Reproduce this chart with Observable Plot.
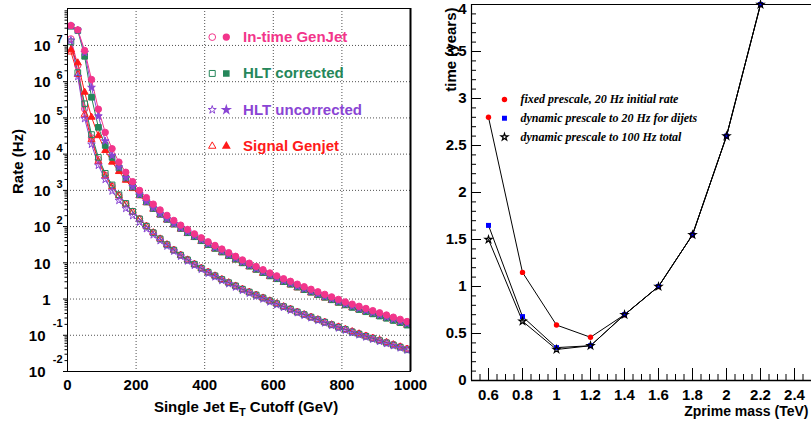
<!DOCTYPE html>
<html>
<head>
<meta charset="utf-8">
<script src="https://cdn.jsdelivr.net/npm/d3@7"></script>
<script src="https://cdn.jsdelivr.net/npm/@observablehq/plot@0.6"></script>
<style>
  body { margin: 0; background: #fff; }
  #wrap { display: flex; width: 811px; height: 423px; position: relative; }
</style>
</head>
<body>
<div id="wrap"></div>
<script>
// ================= LEFT PANEL DATA =================
// Single jet E_T cutoff (GeV) of every plotted point
const etCut = [10,30,50,70,90,110,130,150,170,190,210,230,250,270,290,310,330,350,370,390,
  410,430,450,470,490,510,530,550,570,590,610,630,650,670,690,710,730,750,770,790,
  810,830,850,870,890,910,930,950,970,990];

// log10 of the rate (Hz)
const inTimeGenJetFilledLog = [7.55,7.43,6.86,6.06,5.24,4.60,4.15,3.78,3.50,3.24,
  3.00,2.80,2.62,2.46,2.31,2.17,2.04,1.92,1.80,1.69,
  1.58,1.48,1.38,1.28,1.18,1.08,0.99,0.90,0.81,0.72,
  0.64,0.56,0.49,0.41,0.34,0.27,0.20,0.13,0.06,-0.01,
  -0.08,-0.14,-0.20,-0.26,-0.32,-0.38,-0.44,-0.50,-0.56,-0.62];
const hltCorrectedFilledLog = [7.53,7.41,6.70,5.57,4.74,4.24,3.91,3.62,3.34,3.09,
  2.88,2.68,2.50,2.34,2.20,2.07,1.95,1.83,1.72,1.61,
  1.50,1.40,1.30,1.20,1.10,1.00,0.91,0.82,0.73,0.64,
  0.56,0.48,0.41,0.33,0.26,0.19,0.12,0.05,-0.02,-0.09,
  -0.16,-0.23,-0.29,-0.35,-0.41,-0.47,-0.53,-0.59,-0.65,-0.72];
const hltUncorrectedFilledLog = [7.54,7.42,6.80,5.84,5.05,4.36,3.96,3.64,3.35,3.10,
  2.89,2.69,2.51,2.35,2.21,2.08,1.96,1.85,1.74,1.63,
  1.52,1.42,1.32,1.22,1.12,1.02,0.93,0.84,0.75,0.66,
  0.58,0.50,0.43,0.35,0.28,0.21,0.14,0.07,0.00,-0.07,
  -0.14,-0.20,-0.26,-0.32,-0.38,-0.44,-0.50,-0.56,-0.62,-0.68];
const signalGenjetFilledLog = [6.88,6.52,5.71,5.02,4.51,4.10,3.78,3.52,3.28,3.05,
  2.85,2.66,2.48,2.32,2.18,2.05,1.93,1.81,1.70,1.59,
  1.48,1.38,1.28,1.18,1.08,0.98,0.89,0.80,0.71,0.62,
  0.54,0.46,0.39,0.31,0.24,0.17,0.10,0.03,-0.04,-0.11,
  -0.18,-0.24,-0.30,-0.36,-0.42,-0.48,-0.54,-0.60,-0.66,-0.72];
const inTimeGenJetOpenLog = [7.18,6.45,5.25,4.45,3.85,3.42,3.12,2.86,2.63,2.42,
  2.22,2.02,1.84,1.67,1.51,1.36,1.22,1.09,0.97,0.86,
  0.75,0.65,0.55,0.46,0.37,0.28,0.20,0.12,0.04,-0.04,
  -0.12,-0.20,-0.27,-0.35,-0.42,-0.49,-0.56,-0.63,-0.70,-0.76,
  -0.83,-0.89,-0.95,-1.01,-1.07,-1.13,-1.19,-1.25,-1.31,-1.37];
const hltCorrectedOpenLog = [7.10,6.25,5.39,4.54,3.91,3.47,3.15,2.88,2.64,2.42,
  2.21,2.01,1.83,1.66,1.50,1.35,1.21,1.08,0.96,0.85,
  0.74,0.64,0.54,0.45,0.36,0.27,0.19,0.11,0.03,-0.05,
  -0.13,-0.21,-0.28,-0.36,-0.43,-0.50,-0.57,-0.64,-0.71,-0.78,
  -0.84,-0.91,-0.97,-1.03,-1.09,-1.15,-1.21,-1.27,-1.33,-1.40];
const hltUncorrectedOpenLog = [7.14,6.14,4.98,4.27,3.69,3.30,2.98,2.72,2.50,2.30,
  2.12,1.94,1.77,1.61,1.46,1.32,1.18,1.05,0.93,0.82,
  0.71,0.61,0.51,0.42,0.33,0.24,0.16,0.08,0.00,-0.08,
  -0.16,-0.23,-0.31,-0.38,-0.45,-0.52,-0.59,-0.66,-0.73,-0.80,
  -0.86,-0.93,-0.99,-1.05,-1.11,-1.17,-1.23,-1.29,-1.35,-1.41];
const signalGenjetOpenLog = [6.82,6.20,5.10,4.40,3.80,3.40,3.10,2.85,2.62,2.40,
  2.20,2.01,1.83,1.66,1.50,1.35,1.21,1.08,0.96,0.85,
  0.74,0.64,0.54,0.45,0.36,0.27,0.19,0.11,0.03,-0.05,
  -0.13,-0.21,-0.28,-0.36,-0.43,-0.50,-0.57,-0.64,-0.71,-0.77,
  -0.84,-0.90,-0.96,-1.02,-1.08,-1.14,-1.20,-1.26,-1.32,-1.38];

const leftLegendLabels = ["In-time GenJet", "HLT corrected", "HLT uncorrected", "Signal Genjet"];
const leftColors = ["#f2358b", "#25875a", "#8a45d4", "#ff1a1a"];
const leftSymbols = ["circle", "square", "star", "triangle"];

const rateTicks = [1e-2, 1e-1, 1, 10, 1e2, 1e3, 1e4, 1e5, 1e6, 1e7];
const rateTickBase = ["10", "10", "1", "10", "10", "10", "10", "10", "10", "10"];
const rateTickExp = ["-2", "-1", "", "", "2", "3", "4", "5", "6", "7"];
const etTicks = [0, 200, 400, 600, 800, 1000];
const etTickLabels = ["0", "200", "400", "600", "800", "1000"];
const leftXLabel = "Single Jet ET Cutoff (GeV)";
const leftYLabel = "Rate (Hz)";

// ================= RIGHT PANEL DATA =================
const zprimeMass = [0.6, 0.8, 1.0, 1.2, 1.4, 1.6, 1.8, 2.0, 2.2];
const fixedPrescale20Hz = [2.80, 1.15, 0.59, 0.46, 0.70, 1.00, 1.55, 2.60, 4.00];
const dynamicPrescale20Hz = [1.65, 0.68, 0.35, 0.37, 0.70, 1.00, 1.55, 2.60, 4.00];
const dynamicPrescale100Hz = [1.50, 0.63, 0.33, 0.37, 0.70, 1.00, 1.55, 2.60, 4.00];
const rightLegendLabels = ["fixed prescale, 20 Hz initial rate", "dynamic prescale to 20 Hz for dijets", "dynamic prescale to 100 Hz total"];
const timeTicks = [0, 0.5, 1, 1.5, 2, 2.5, 3, 3.5, 4];
const timeTickLabels = ["0", "0.5", "1", "1.5", "2", "2.5", "3", "3.5", "4"];
const massTicks = [0.6, 0.8, 1.0, 1.2, 1.4, 1.6, 1.8, 2.0, 2.2, 2.4];
const massTickLabels = ["0.6", "0.8", "1", "1.2", "1.4", "1.6", "1.8", "2", "2.2", "2.4"];
const rightXLabel = "Zprime mass (TeV)";
const rightYLabel = "time (years)";

// ================= BUILD LEFT =================
const leftSeries = [
  {log: inTimeGenJetOpenLog, c: 0, filled: false},
  {log: signalGenjetOpenLog, c: 3, filled: false},
  {log: hltCorrectedOpenLog, c: 1, filled: false},
  {log: hltUncorrectedOpenLog, c: 2, filled: false},
  {log: signalGenjetFilledLog, c: 3, filled: true},
  {log: hltCorrectedFilledLog, c: 1, filled: true},
  {log: hltUncorrectedFilledLog, c: 2, filled: true},
  {log: inTimeGenJetFilledLog, c: 0, filled: true}
];
const symR = {circle: 3.2, square: 3.2, star: 2.4, triangle: 2.6};

const leftMarks = [];
const gridStyle = {stroke: "#333", strokeOpacity: 0.85, strokeDasharray: "1,2", strokeWidth: 1};
leftMarks.push(Plot.gridY(rateTicks.slice(1), gridStyle));
leftMarks.push(Plot.gridX(etTicks.slice(1, -1), gridStyle));

for (const s of leftSeries) {
  const rows = etCut.map((x, i) => ({x, rate: 10 ** s.log[i]}));
  leftMarks.push(Plot.line(rows, {x: "x", y: "rate", stroke: leftColors[s.c], strokeWidth: 1}));
}
for (const s of leftSeries) {
  const rows = etCut.map((x, i) => ({x, rate: 10 ** s.log[i]}));
  const sym = leftSymbols[s.c];
  leftMarks.push(Plot.dot(rows, {x: "x", y: "rate", symbol: sym, r: symR[sym],
    fill: s.filled ? leftColors[s.c] : "none", stroke: leftColors[s.c], strokeWidth: 1}));
}
// legend
leftLegendLabels.forEach((lab, i) => {
  const yv = 10 ** (7.23 - i * 1.003);
  const sym = leftSymbols[i];
  leftMarks.push(Plot.dot([{x: 422, y: yv}], {x: "x", y: "y", symbol: sym, r: symR[sym] * 1.05, fill: "none", stroke: leftColors[i], strokeWidth: 1}));
  leftMarks.push(Plot.dot([{x: 463, y: yv}], {x: "x", y: "y", symbol: sym, r: symR[sym] * 0.9, fill: leftColors[i], stroke: leftColors[i]}));
  leftMarks.push(Plot.text([{x: 512, y: yv, t: lab}], {x: "x", y: "y", text: "t", textAnchor: "start", fill: leftColors[i], fontSize: 15, fontWeight: "bold"}));
});

// frame & axes
const minorRate = [];
for (let e = -2; e <= 7; e++) for (let k = 2; k <= 9; k++) minorRate.push(k * 10 ** e);
leftMarks.push(Plot.frame({stroke: "#000", strokeWidth: 1}));
leftMarks.push(Plot.ruleX([1000], {stroke: "#000", strokeWidth: 2}));
leftMarks.push(Plot.axisY({ticks: minorRate, tickSize: 2.5, tickFormat: () => "", label: null}));
leftMarks.push(Plot.axisY({ticks: rateTicks, tickSize: 4, tickFormat: () => "", label: null}));
leftMarks.push(Plot.axisX({ticks: etTicks, tickSize: 0, tickPadding: 8, tickFormat: (d) => etTickLabels[etTicks.indexOf(d)], label: null, fontSize: 15}));

const posIdx = rateTicks.map((v, i) => i).filter(i => !rateTickExp[i].startsWith("-"));
const negIdx = rateTicks.map((v, i) => i).filter(i => rateTickExp[i].startsWith("-"));
leftMarks.push(Plot.text(posIdx, {y: i => rateTicks[i], text: i => rateTickBase[i], frameAnchor: "left", dx: -17, dy: 1, textAnchor: "end", fontSize: 15}));
leftMarks.push(Plot.text(negIdx, {y: i => rateTicks[i], text: i => rateTickBase[i], frameAnchor: "left", dx: -22, dy: 1, textAnchor: "end", fontSize: 15}));
leftMarks.push(Plot.text(posIdx, {y: i => rateTicks[i], text: i => rateTickExp[i], frameAnchor: "left", dx: -5, dy: -6, textAnchor: "end", fontSize: 11}));
leftMarks.push(Plot.text(negIdx, {y: i => rateTicks[i], text: i => rateTickExp[i], frameAnchor: "left", dx: -5, dy: -12, textAnchor: "end", fontSize: 11}));
leftMarks.push(Plot.text([leftYLabel], {frameAnchor: "left", rotate: -90, dx: -49, dy: 4, fontSize: 15}));
leftMarks.push(Plot.text([leftXLabel], {frameAnchor: "bottom", dx: 7, dy: 40, fontSize: 15}));

const leftSvg = Plot.plot({
  width: 420, height: 423,
  marginLeft: 67, marginRight: 10, marginTop: 8, marginBottom: 52,
  x: {domain: [0, 1000]},
  y: {type: "log", domain: [1e-2, 10 ** 8.02]},
  style: {fontFamily: "'Liberation Sans', Arial, sans-serif", fontWeight: "bold", fontSize: "15px", overflow: "visible", color: "#000"},
  marks: leftMarks
});

// subscript T in the x label
d3.select(leftSvg).selectAll("text").filter(function () { return this.textContent === leftXLabel; })
  .each(function () {
    const t = d3.select(this);
    t.text(null);
    t.append("tspan").text("Single Jet E");
    t.append("tspan").attr("font-size", "11px").attr("dy", "4").text("T");
    t.append("tspan").attr("dy", "-4").text(" Cutoff (GeV)");
  });

// ================= BUILD RIGHT =================
const rightMarks = [];
const minorTime = d3.range(0, 4.0001, 0.1).map(v => +v.toFixed(2));
const minorMass = d3.range(0.55, 2.5, 0.05).map(v => +v.toFixed(2));
rightMarks.push(Plot.tickY(minorTime, {y: d => d, insetRight: 335, stroke: "#000"}));
rightMarks.push(Plot.tickY(timeTicks, {y: d => d, insetRight: 330, stroke: "#000"}));
rightMarks.push(Plot.tickX(minorMass, {x: d => d, insetTop: 370, stroke: "#000"}));
rightMarks.push(Plot.tickX(massTicks, {x: d => d, insetTop: 364, stroke: "#000"}));
rightMarks.push(Plot.ruleX([0.5], {stroke: "#000", strokeWidth: 1.2}));
rightMarks.push(Plot.ruleY([0], {stroke: "#000", strokeWidth: 1.6}));
rightMarks.push(Plot.ruleY([4], {stroke: "#000", strokeWidth: 1}));

const rs = [
  {v: fixedPrescale20Hz, symbol: "circle", fill: "#ff0000", stroke: "none", r: 2.7},
  {v: dynamicPrescale20Hz, symbol: "square", fill: "#0000ff", stroke: "none", r: 2.8},
  {v: dynamicPrescale100Hz, symbol: "star", fill: "none", stroke: "#000", r: 2.2}
];
for (const s of rs) {
  const rows = zprimeMass.map((m, i) => ({m, t: s.v[i]}));
  rightMarks.push(Plot.line(rows, {x: "m", y: "t", stroke: "#000", strokeWidth: 1}));
}
for (const s of rs) {
  const rows = zprimeMass.map((m, i) => ({m, t: s.v[i]}));
  rightMarks.push(Plot.dot(rows, {x: "m", y: "t", symbol: s.symbol, fill: s.fill, stroke: s.stroke, strokeWidth: 1.2, r: s.r}));
}
rightLegendLabels.forEach((lab, i) => {
  const yv = 2.99 - 0.2 * i;
  const s = rs[i];
  rightMarks.push(Plot.dot([{x: 0.694, y: yv}], {x: "x", y: "y", symbol: s.symbol, fill: s.fill, stroke: s.stroke, strokeWidth: 1.2, r: s.r}));
  rightMarks.push(Plot.text([{x: 0.788, y: yv, t: lab}], {x: "x", y: "y", text: "t", textAnchor: "start",
    fontFamily: "'Liberation Serif', 'Times New Roman', serif", fontStyle: "italic", fontWeight: "bold", fontSize: 12, fill: "#000"}));
});
// y tick labels: all but the top one through the axis; the top one nudged down so it stays inside the picture
const lowerTimeTicks = timeTicks.slice(0, -1);
rightMarks.push(Plot.axisY({ticks: lowerTimeTicks, tickSize: 0, tickPadding: 5, tickFormat: d => timeTickLabels[timeTicks.indexOf(d)], label: null, fontSize: 15}));
rightMarks.push(Plot.text([timeTicks.length - 1], {y: i => timeTicks[i], text: i => timeTickLabels[i], frameAnchor: "left", dx: -5, dy: 5, textAnchor: "end", fontSize: 15}));
rightMarks.push(Plot.axisX({ticks: massTicks, tickSize: 0, tickPadding: 9, tickFormat: d => massTickLabels[massTicks.indexOf(d)], label: null, fontSize: 15}));
rightMarks.push(Plot.text([rightYLabel], {frameAnchor: "top-left", rotate: -90, textAnchor: "end", dx: -26, dy: 3, fontSize: 15}));
rightMarks.push(Plot.text([rightXLabel], {frameAnchor: "bottom-right", textAnchor: "end", dx: -3, dy: 35, fontSize: 14}));

const rightSvg = Plot.plot({
  width: 391, height: 423,
  marginLeft: 51, marginRight: 0, marginTop: 4, marginBottom: 43,
  x: {domain: [0.5, 2.5]},
  y: {domain: [0, 4]},
  style: {fontFamily: "'Liberation Sans', Arial, sans-serif", fontWeight: "bold", fontSize: "15px", background: "transparent", color: "#000"},
  marks: rightMarks
});

const wrap = document.getElementById("wrap");
wrap.appendChild(leftSvg);
wrap.appendChild(rightSvg);
</script>
</body>
</html>
